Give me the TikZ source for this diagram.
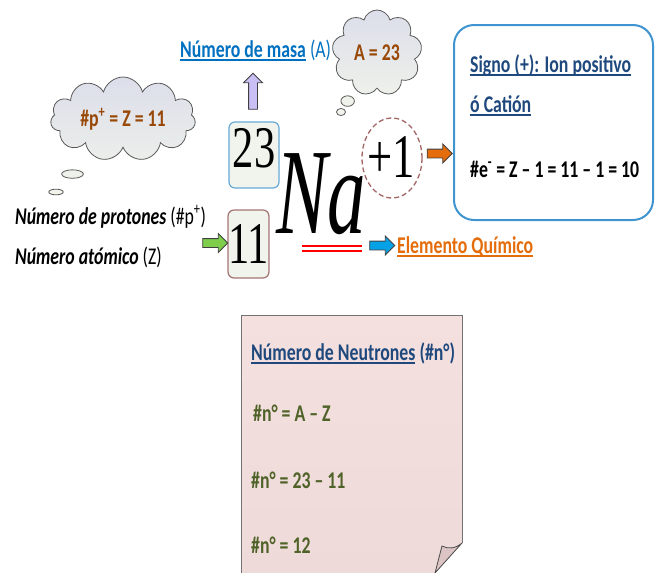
\documentclass[tikz,border=0pt]{standalone}
\usepackage{fontspec}
\setmainfont{Carlito}
\newfontfamily\calb[FakeStretch=0.74]{Carlito}
\newfontfamily\tms[FakeStretch=0.72]{Liberation Serif}
\newfontfamily\tmsna[FakeStretch=0.63]{Liberation Serif}
\usetikzlibrary{shapes.symbols,shapes.callouts,shapes.arrows}
\definecolor{masablue}{HTML}{0070C0}
\definecolor{cloudtext}{HTML}{984807}
\definecolor{cloudtop}{HTML}{DCDEEA}
\definecolor{cloudbot}{HTML}{F2F5EA}
\definecolor{signblue}{HTML}{1F497D}
\definecolor{elemorange}{HTML}{E46C0A}
\definecolor{olivetext}{HTML}{4F6228}
\definecolor{boxfill}{HTML}{F1F4EC}
\definecolor{notetop}{HTML}{F4E0DF}
\definecolor{notebot}{HTML}{EFDADA}
\definecolor{flapfill}{HTML}{DCC4C4}
\newcommand{\undl}[2][1.8pt]{\setbox0\hbox{#2}\rlap{\copy0}\rule[-4pt]{\wd0}{#1}}

\begin{document}
\begin{tikzpicture}[x=1pt,y=-1pt,
  txt/.style={inner sep=0,anchor=base west,font=\calb\fontsize{24}{28}\selectfont\bfseries},
  blkarrow/.style={single arrow,draw=black!75,single arrow head extend=5pt,inner sep=4pt,
    minimum height=25pt,line width=0.8pt},
  numbox/.style={rounded corners=6pt,line width=1.2pt,fill=boxfill,inner sep=0,
    font=\tms\fontsize{59}{60}\selectfont},
  thought/.style={cloud callout,cloud puffs=11,aspect=2,draw=black!65,line width=0.8pt,
    top color=cloudtop,bottom color=cloudbot,text=cloudtext,inner sep=0,
    font=\calb\fontsize{24}{28}\selectfont\bfseries}
]
\useasboundingbox (0,0) rectangle (657,573);

% numeros y simbolo
\node[numbox,draw=masablue!60,minimum width=50,minimum height=66,text depth=14] (mass) at (254,155) {23};
\node[numbox,draw=red!35!black!55,minimum width=39,minimum height=68] (atomic) at (248.5,244) {11};
\node[inner sep=0,anchor=base west,font=\tmsna\fontsize{122}{122}\selectfont\itshape] (na) at (276,233) {Na};
\node[inner sep=0,anchor=base west,font=\tms\fontsize{62}{62}\selectfont] (charge) at (367,177) {+1};
\draw[red!40!black!60,dashed,line width=1.3pt,dash pattern=on 5pt off 3pt] (392,158) ellipse [x radius=30,y radius=40];
\draw[red,double=white,double distance=2.5pt,line width=2.2pt] (302,248.5) -- (362,248.5);

% nubes
\node[thought,minimum width=145,minimum height=68,callout absolute pointer={(56,192)}] (pcloud) at (123,119) {\#p\textsuperscript{+} = Z = 11};
\node[thought,minimum width=90,minimum height=86,cloud puffs=9,aspect=1,callout absolute pointer={(341,112)}] (acloud) at (377,53) {A = 23};

% textos
\node[txt,text=masablue] (masa) at (180,57) {\undl{Número de masa} \mdseries(A)};
\node[txt,font=\calb\fontsize{24}{28}\selectfont\bfseries\itshape] (prot) at (15,224) {Número de protones \upshape\mdseries(\#p\textsuperscript{+})};
\node[txt,font=\calb\fontsize{24}{28}\selectfont\bfseries\itshape] (atnum) at (15,264) {Número atómico \upshape\mdseries(Z)};
\node[txt,text=elemorange] (elem) at (397,253) {\undl{Elemento Químico}};

% flechas
\node[blkarrow,fill=violet!30!blue!25,rotate=90,minimum height=36pt] (upA) at (253,93.5) {};
\node[blkarrow,fill=green!45!olive!70!white] (grA) at (213,243) {};
\node[blkarrow,fill=cyan!90!blue] (blA) at (380,245.5) {};
\node[blkarrow,fill=elemorange] (orA) at (437.5,153.5) {};

% recuadro del ion
\draw[masablue!75,line width=2pt,rounded corners=20pt] (454,25) rectangle (653,220);
\node[txt,text=signblue] (signo) at (470,72) {\undl{Signo (+): Ion positivo}};
\node[txt,text=signblue] (cation) at (470,112) {\undl{ó Catión}};
\node[txt] (elec) at (470,177) {\#e\textsuperscript{-} = Z – 1 = 11 – 1 = 10};

% hoja de neutrones
\fill[top color=notetop,bottom color=notebot] (241,315) -- (462,315) -- (462,543) -- (435,573) -- (241,573) -- cycle;
\draw[black!55,line width=1pt] (241,573) -- (241,315) -- (462,315) -- (462,543);
\filldraw[fill=flapfill,draw=black!70,line width=0.8pt] (462,543) .. controls (455,549) and (448,549) .. (442,546) -- (435,573) -- cycle;
\node[txt,text=signblue] (neut) at (251,360) {\undl{Número de Neutrones} (\#n°)};
\node[txt,text=olivetext] (f1) at (253,421) {\#n° = A – Z};
\node[txt,text=olivetext] (f2) at (251,488) {\#n° = 23 – 11};
\node[txt,text=olivetext] (f3) at (251,553) {\#n° = 12};
\end{tikzpicture}
\end{document}
